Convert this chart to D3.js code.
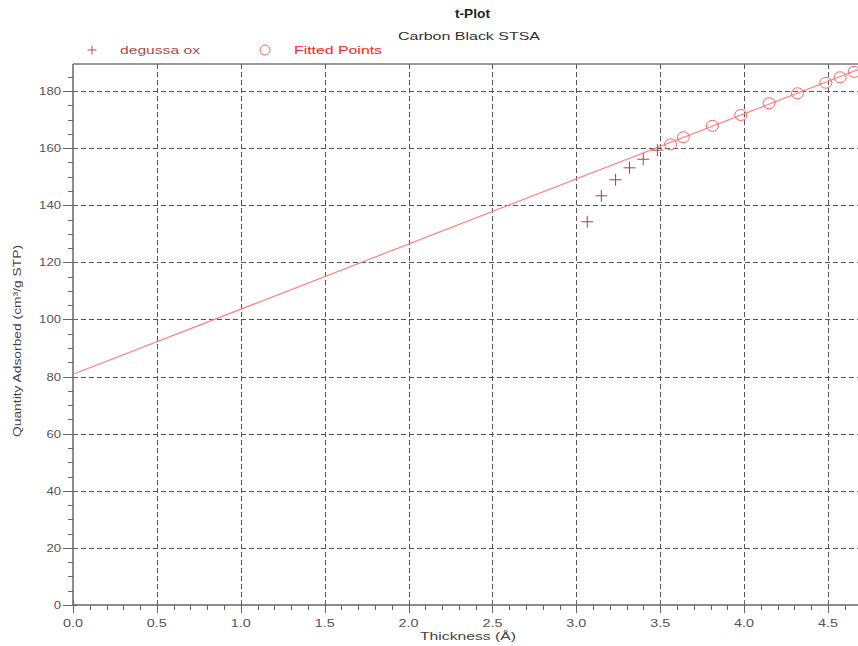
<!DOCTYPE html>
<html><head><meta charset="utf-8">
<script src="https://cdn.jsdelivr.net/npm/d3@7"></script>
<style>body{margin:0;background:#fff}svg{display:block}text{font-family:"Liberation Sans",Arial,sans-serif}</style>
</head><body>
<svg id="c" width="858" height="646"></svg>
<script>
const title = "t-Plot";
const subtitle = "Carbon Black STSA";
const xTicks = [0,0.5,1,1.5,2,2.5,3,3.5,4,4.5];
const yTicks = [0,20,40,60,80,100,120,140,160,180];
const degussaT = [3.065,3.149,3.234,3.317,3.399,3.483];
const degussaQ = [134.2,143.3,148.9,153.1,156.1,159.3];
const fittedT = [3.562,3.638,3.811,3.980,4.149,4.318,4.487,4.572,4.656];
const fittedQ = [161.3,163.8,167.8,171.6,175.7,179.2,182.9,184.8,186.7];
const fitLineT = [0, 4.75];
const fitLineQ = [80.8, 189.1];

const svg = d3.select("#c");
const L=73, B=605, T=64, R=858;
const x = d3.scaleLinear().domain([0,4.5]).range([L,828]);
const y = d3.scaleLinear().domain([0,180]).range([B,91]);

// grid
const grid = svg.append("g").attr("stroke","#555").attr("stroke-width",1).attr("stroke-dasharray","5,3");
grid.selectAll(".gx").data(xTicks.filter(d=>d>0)).join("line")
  .attr("x1",d=>Math.round(x(d))+0.5).attr("x2",d=>Math.round(x(d))+0.5).attr("y1",T).attr("y2",B);
grid.selectAll(".gy").data(yTicks.filter(d=>d>0)).join("line")
  .attr("x1",L).attr("x2",R).attr("y1",d=>Math.round(y(d))+0.5).attr("y2",d=>Math.round(y(d))+0.5);

// top border
svg.append("line").attr("x1",L).attr("x2",R).attr("y1",T).attr("y2",T).attr("stroke","#777").attr("stroke-width",1.5);

// axes
const xMinor = d3.range(0,4.85,0.1);
const yMinor = d3.range(0,190,5);
const ax = svg.append("g").attr("stroke","#666").attr("stroke-width",1);
ax.selectAll(".xm").data(xMinor).join("line")
  .attr("x1",d=>Math.round(x(d))+0.5).attr("x2",d=>Math.round(x(d))+0.5).attr("y1",B).attr("y2",B+5);
ax.selectAll(".xM").data(xTicks).join("line")
  .attr("x1",d=>Math.round(x(d))+0.5).attr("x2",d=>Math.round(x(d))+0.5).attr("y1",B-5).attr("y2",B+8);
ax.selectAll(".ym").data(yMinor).join("line")
  .attr("y1",d=>Math.round(y(d))+0.5).attr("y2",d=>Math.round(y(d))+0.5).attr("x1",L-5).attr("x2",L);
ax.selectAll(".yM").data(yTicks).join("line")
  .attr("y1",d=>Math.round(y(d))+0.5).attr("y2",d=>Math.round(y(d))+0.5).attr("x1",L-10).attr("x2",L+4);
svg.append("line").attr("x1",L).attr("x2",L).attr("y1",T).attr("y2",B).attr("stroke","#666").attr("stroke-width",1.5);
svg.append("line").attr("x1",L).attr("x2",R).attr("y1",B).attr("y2",B).attr("stroke","#666").attr("stroke-width",1.5);

// tick labels
svg.append("g").selectAll("text").data(xTicks).join("text")
  .attr("x",d=>x(d)-10).attr("y",B+22)
  .attr("font-size",11).attr("fill","#555").attr("textLength",20).attr("lengthAdjust","spacingAndGlyphs")
  .text(d=>d.toFixed(1));
svg.append("g").selectAll("text").data(yTicks).join("text")
  .attr("x",d=>61-(String(d).length)*7.3).attr("y",d=>y(d)+4)
  .attr("font-size",11).attr("fill","#555")
  .attr("textLength",d=>String(d).length*7.3).attr("lengthAdjust","spacingAndGlyphs").text(d=>d);

// axis titles
svg.append("text").attr("x",420).attr("y",640).attr("font-size",11).attr("fill","#444")
  .attr("textLength",96).attr("lengthAdjust","spacingAndGlyphs").text("Thickness (Å)");
svg.append("text").attr("transform","translate(21,437) rotate(-90)")
  .attr("font-size",11).attr("fill","#444").attr("textLength",192).attr("lengthAdjust","spacingAndGlyphs")
  .text("Quantity Adsorbed (cm³/g STP)");

// titles
svg.append("text").attr("x",455).attr("y",18).attr("font-size",12).attr("font-weight","bold").attr("fill","#222")
  .attr("textLength",35).attr("lengthAdjust","spacingAndGlyphs").text(title);
svg.append("text").attr("x",398).attr("y",40).attr("font-size",11).attr("fill","#333")
  .attr("textLength",142).attr("lengthAdjust","spacingAndGlyphs").text(subtitle);

// fit line
const lineData = fitLineT.map((t,i)=>[t,fitLineQ[i]]);
svg.append("path").datum(lineData).attr("fill","none").attr("stroke","#ff8080").attr("stroke-width",1.2)
  .attr("d",d3.line().x(d=>x(d[0])).y(d=>y(d[1])));

// crosses
const cross = (g,cx,cy,s)=>{g.append("line").attr("x1",cx-s).attr("x2",cx+s).attr("y1",cy).attr("y2",cy);
  g.append("line").attr("x1",cx).attr("x2",cx).attr("y1",cy-s).attr("y2",cy+s);};
const cg = svg.append("g").attr("stroke","#a84040").attr("stroke-width",1);
degussaT.forEach((t,i)=>cross(cg,x(t),y(degussaQ[i]),6));

// circles
svg.append("g").selectAll("ellipse").data(fittedT.map((t,i)=>[t,fittedQ[i]])).join("ellipse")
  .attr("cx",d=>x(d[0])).attr("cy",d=>y(d[1])).attr("rx",6).attr("ry",5.5)
  .attr("fill","none").attr("stroke","#ff6060").attr("stroke-width",1);

// legend
const lg = svg.append("g").attr("stroke","#b05050").attr("stroke-width",1);
cross(lg,92,50,4.5);
svg.append("text").attr("x",120).attr("y",54).attr("font-size",11).attr("fill","#b04848")
  .attr("textLength",80).attr("lengthAdjust","spacingAndGlyphs").text("degussa ox");
svg.append("ellipse").attr("cx",265).attr("cy",50).attr("rx",5).attr("ry",5).attr("fill","none").attr("stroke","#ff6060");
svg.append("text").attr("x",294).attr("y",54).attr("font-size",11).attr("fill","#ff2020")
  .attr("textLength",88).attr("lengthAdjust","spacingAndGlyphs").text("Fitted Points");
</script>
</body></html>
